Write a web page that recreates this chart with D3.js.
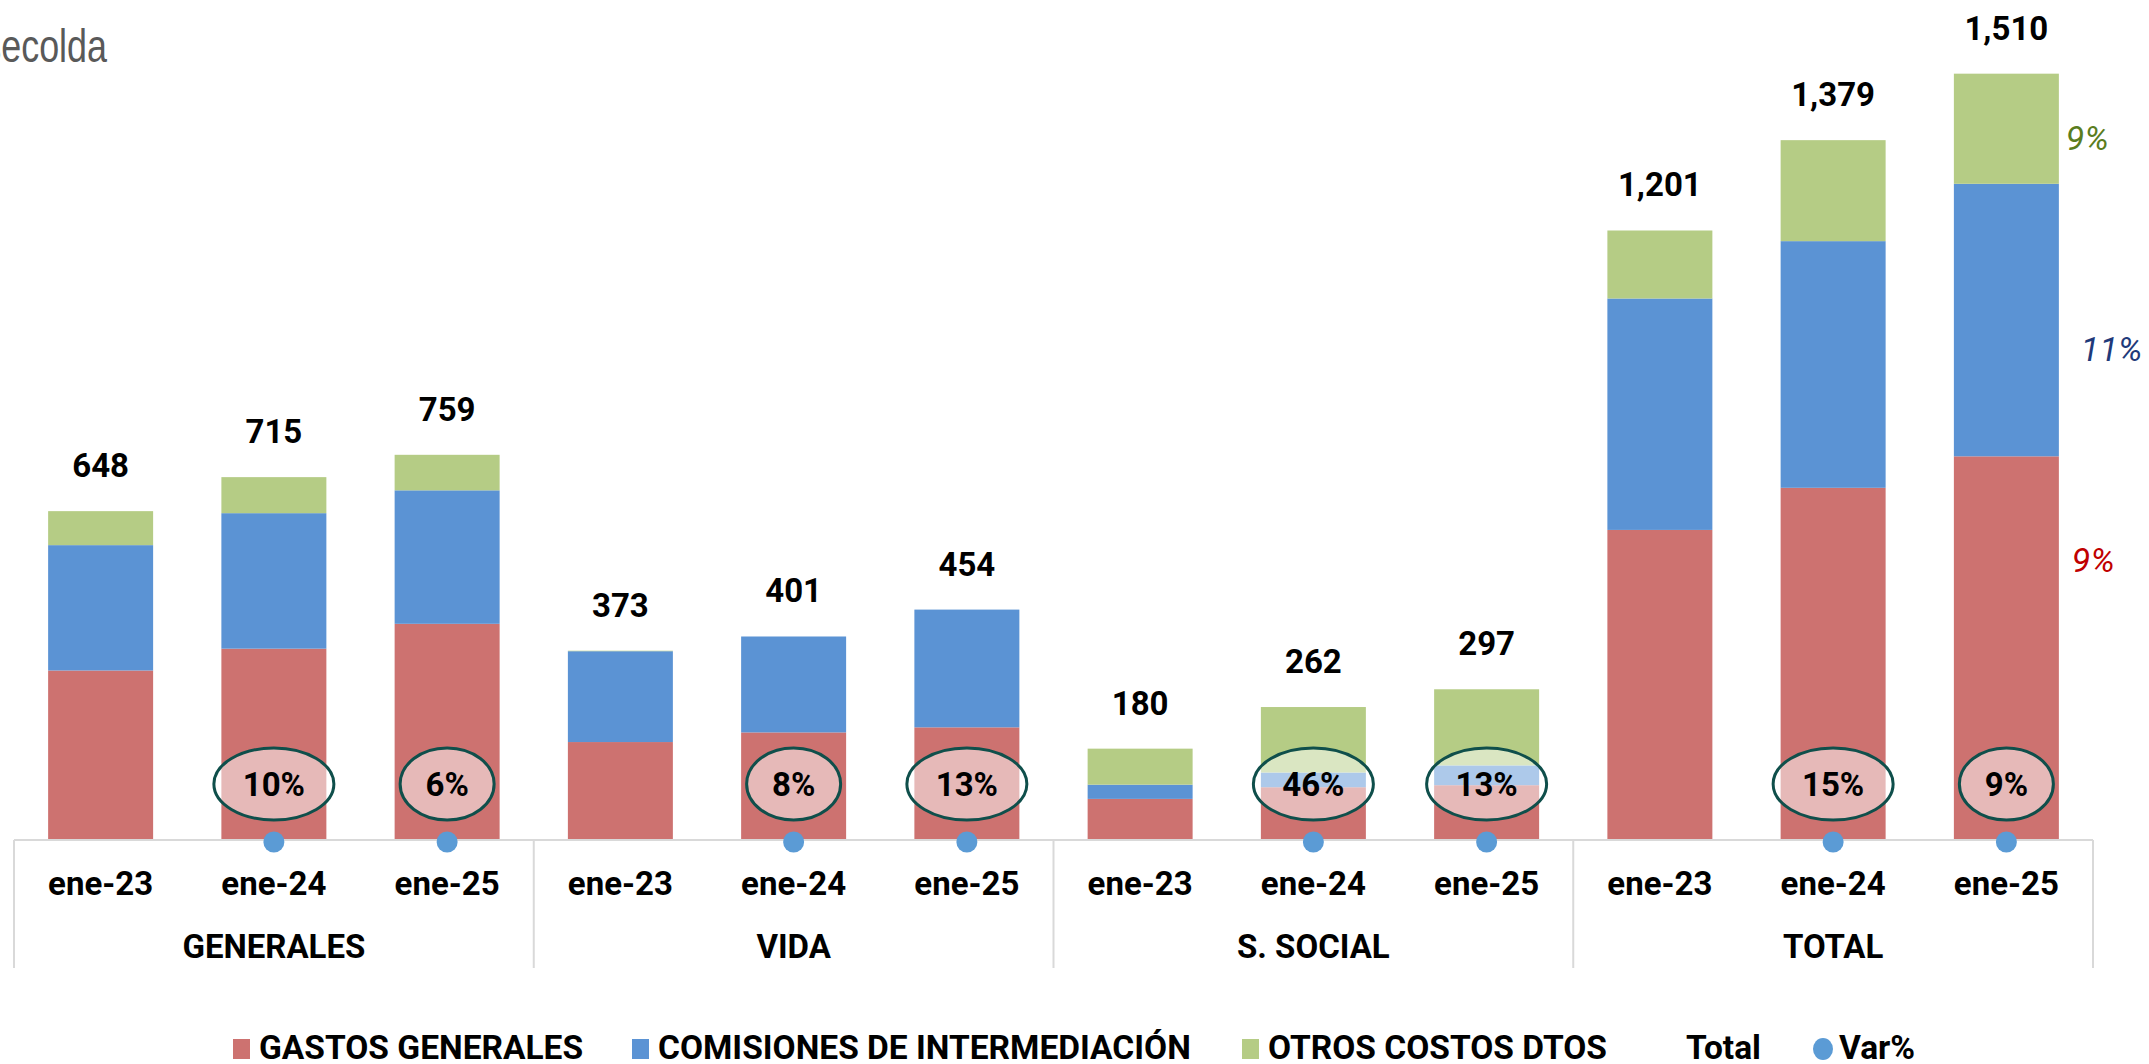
<!DOCTYPE html>
<html>
<head>
<meta charset="utf-8">
<script src="https://cdnjs.cloudflare.com/ajax/libs/d3/7.8.5/d3.min.js"></script>
<style>
  body { margin: 0; background: #fff; }
  text { font-family: Roboto, "Noto Sans", sans-serif; }
</style>
</head>
<body>
<script>
// chart data
var groups = ["GENERALES", "VIDA", "S. SOCIAL", "TOTAL"];
var periods = ["ene-23", "ene-24", "ene-25"];
var gastosGenerales = [334, 377, 426, 193, 212, 222, 81, 104, 108, 611, 694, 756];
var comisiones = [247, 267, 263, 179, 189, 232, 28, 29, 39, 456, 486, 537];
var otrosCostos = [67, 71, 70, 1, 0, 0, 71, 129, 150, 134, 199, 217];
var totals = [648, 715, 759, 373, 401, 454, 180, 262, 297, 1201, 1379, 1510];
var varPct = [null, 10, 6, null, 8, 13, null, 46, 13, null, 15, 9];
// growth of each component of TOTAL ene-25 (gastos, comisiones, otros)
var totalParts = [9, 11, 9];
var seriesNames = ["GASTOS GENERALES", "COMISIONES DE INTERMEDIACIÓN", "OTROS COSTOS DTOS"];

var w = 2149;
var h = 1064;
var colors = ["#cd7270", "#5b93d4", "#b5cc85"];
var partColors = ["#c00000", "#1f3a7a", "#5a7d1e"];

var rows = totals.map(function(t, i) {
	return {
		idx: i,
		gastos: gastosGenerales[i],
		comisiones: comisiones[i],
		otros: otrosCostos[i]
	};
});
var keys = ["gastos", "comisiones", "otros"];
var stacked = d3.stack().keys(keys)(rows);

var x_scale = d3.scaleBand()
	.domain(d3.range(totals.length))
	.range([14, 2093])
	.paddingInner(0.394)
	.paddingOuter(0.197);

var y_scale = d3.scaleLinear()
	.domain([0, 1600])
	.range([840, 28]);

var step = x_scale.step();
var bw = x_scale.bandwidth();
function cx(i) { return x_scale(i) + bw / 2; }

var svg = d3.select("body")
	.append("svg")
	.attr("width", w)
	.attr("height", h);

// source note, cut at the left edge like the original (narrow font)
svg.append("text")
	.attr("transform", "translate(107,62) scale(0.78,1)")
	.attr("text-anchor", "end")
	.style("font-family", "'Liberation Sans', Arial, sans-serif")
	.style("font-size", "46px")
	.attr("fill", "#595959")
	.text("Fuente: Fasecolda");

// stacked bars
svg.selectAll("g.layer")
	.data(stacked)
	.enter()
	.append("g")
	.attr("class", "layer")
	.attr("fill", function(d, i) { return colors[i]; })
	.selectAll("rect")
	.data(function(d) { return d; })
	.enter()
	.append("rect")
	.attr("x", function(d) { return x_scale(d.data.idx); })
	.attr("y", function(d) { return y_scale(d[1]); })
	.attr("width", bw)
	.attr("height", function(d) { return y_scale(d[0]) - y_scale(d[1]); });

// axis line and group separators
var x0 = x_scale.range()[0];
var x1 = x_scale.range()[1];
svg.append("line")
	.attr("x1", x0).attr("x2", x1)
	.attr("y1", y_scale(0)).attr("y2", y_scale(0))
	.attr("stroke", "#d9d9d9")
	.attr("stroke-width", 2);

var sepX = d3.range(groups.length + 1).map(function(g) {
	return x0 + g * periods.length * step;
});
svg.selectAll("line.sep")
	.data(sepX)
	.enter()
	.append("line")
	.attr("class", "sep")
	.attr("x1", function(d) { return d; })
	.attr("x2", function(d) { return d; })
	.attr("y1", y_scale(0))
	.attr("y2", 968)
	.attr("stroke", "#d9d9d9")
	.attr("stroke-width", 2);

// period labels
svg.selectAll("text.period")
	.data(totals)
	.enter()
	.append("text")
	.attr("class", "period")
	.attr("x", function(d, i) { return cx(i); })
	.attr("y", 895)
	.attr("text-anchor", "middle")
	.style("font-size", "33px")
	.style("font-weight", "bold")
	.text(function(d, i) { return periods[i % periods.length]; });

// group labels
svg.selectAll("text.group")
	.data(groups)
	.enter()
	.append("text")
	.attr("class", "group")
	.attr("x", function(d, g) { return (sepX[g] + sepX[g + 1]) / 2; })
	.attr("y", 958)
	.attr("text-anchor", "middle")
	.style("font-size", "33px")
	.style("font-weight", "bold")
	.text(function(d) { return d; });

// totals above bars
svg.selectAll("text.total")
	.data(totals)
	.enter()
	.append("text")
	.attr("class", "total")
	.attr("x", function(d, i) { return cx(i); })
	.attr("y", function(d) { return y_scale(d) - 34; })
	.attr("text-anchor", "middle")
	.style("font-size", "33px")
	.style("font-weight", "bold")
	.text(function(d) { return d3.format(",")(d); });

// variation bubbles
var varData = varPct.map(function(v, i) { return { v: v, i: i }; })
	.filter(function(d) { return d.v !== null; });
var bubbleY = y_scale(0) - 56;

svg.selectAll("ellipse.var")
	.data(varData)
	.enter()
	.append("ellipse")
	.attr("class", "var")
	.attr("cx", function(d) { return cx(d.i); })
	.attr("cy", bubbleY)
	.attr("rx", function(d) { return d.v >= 10 ? 60 : 47; })
	.attr("ry", 36)
	.attr("fill", "#ffffff")
	.attr("fill-opacity", 0.5)
	.attr("stroke", "#0f4f4b")
	.attr("stroke-width", 3);

svg.selectAll("text.var")
	.data(varData)
	.enter()
	.append("text")
	.attr("class", "var")
	.attr("x", function(d) { return cx(d.i); })
	.attr("y", bubbleY + 12)
	.attr("text-anchor", "middle")
	.style("font-size", "33px")
	.style("font-weight", "bold")
	.text(function(d) { return d.v + "%"; });

// Var% markers on the axis
svg.selectAll("circle.var")
	.data(varData)
	.enter()
	.append("circle")
	.attr("class", "var")
	.attr("cx", function(d) { return cx(d.i); })
	.attr("cy", y_scale(0) + 2)
	.attr("r", 10.5)
	.attr("fill", "#5b9bd5");

// growth of each TOTAL component, next to the last bar
var last = stacked.map(function(s) { return s[totals.length - 1]; });
var partShift = [{ dx: 13, dy: -88 }, { dx: 22, dy: 29 }, { dx: 7, dy: 9 }];
svg.selectAll("text.part")
	.data(totalParts)
	.enter()
	.append("text")
	.attr("class", "part")
	.attr("x", function(d, k) { return x_scale(totals.length - 1) + bw + partShift[k].dx; })
	.attr("y", function(d, k) {
		return (y_scale(last[k][0]) + y_scale(last[k][1])) / 2 + partShift[k].dy + 12;
	})
	.style("font-size", "34px")
	.style("font-style", "italic")
	.attr("fill", function(d, k) { return partColors[k]; })
	.text(function(d) { return d + "%"; });

// legend
var legendY = 1059;
var legend = [
	{ label: seriesNames[0], x: 233, mark: "rect", color: colors[0] },
	{ label: seriesNames[1], x: 632, mark: "rect", color: colors[1] },
	{ label: seriesNames[2], x: 1242, mark: "rect", color: colors[2] },
	{ label: "Total", x: 1660, mark: "none", color: null },
	{ label: "Var%", x: 1813, mark: "circle", color: "#5b9bd5" }
];
var lg = svg.selectAll("g.legend")
	.data(legend)
	.enter()
	.append("g")
	.attr("class", "legend")
	.attr("transform", function(d) { return "translate(" + d.x + "," + legendY + ")"; });

lg.filter(function(d) { return d.mark === "rect"; })
	.append("rect")
	.attr("x", 0).attr("y", -20)
	.attr("width", 17).attr("height", 20)
	.attr("fill", function(d) { return d.color; });

lg.filter(function(d) { return d.mark === "circle"; })
	.append("ellipse")
	.attr("cx", 10).attr("cy", -10)
	.attr("rx", 10).attr("ry", 11)
	.attr("fill", function(d) { return d.color; });

lg.append("text")
	.attr("x", 26)
	.attr("y", 0)
	.style("font-size", "33.5px")
	.style("font-weight", "bold")
	.text(function(d) { return d.label; });
</script>
</body>
</html>
